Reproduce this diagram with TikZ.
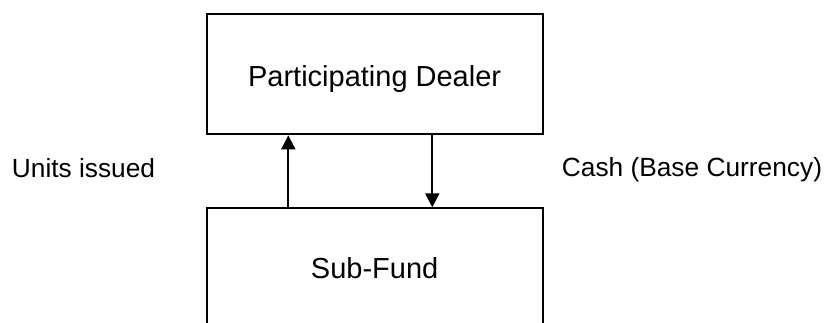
\documentclass[tikz,border=0pt]{standalone}
\usepackage{fontspec}
\setmainfont{Liberation Sans}
\usetikzlibrary{arrows.meta}
\tikzset{
  flowbox/.style={draw=black, line width=2pt, inner sep=0pt, minimum width=336.2pt},
  flowarrow/.style={line width=2pt, -{Triangle[length=14pt,width=14pt]}},
  sidelabel/.style={inner sep=0pt, font=\fontsize{26.3}{31}\selectfont},
  boxfont/.style={font=\fontsize{29}{34}\selectfont}
}
\begin{document}
\begin{tikzpicture}[x=1pt,y=-1pt]
\clip (0,0) rectangle (827,322);
\fill[white] (0,0) rectangle (827,322);
\node[flowbox, boxfont, minimum height=120pt, text height=27pt, text depth=3.6pt] (dealer) at (374.6,74.3) {Participating Dealer};
\node[flowbox, boxfont, minimum height=140pt, text height=20pt, text depth=20pt] (fund) at (374.6,278.3) {Sub-Fund};
\coordinate (upx) at (288.3,0);
\coordinate (downx) at (432.3,0);
\draw[flowarrow] (fund.north -| upx) -- (dealer.south -| upx);
\draw[flowarrow] (dealer.south -| downx) -- (fund.north -| downx);
\node[sidelabel, anchor=base west] (units) at (11.7,177.7) {Units issued};
\node[sidelabel, anchor=base west] (cash) at (561.7,176) {Cash (Base Currency)};
\end{tikzpicture}
\end{document}
